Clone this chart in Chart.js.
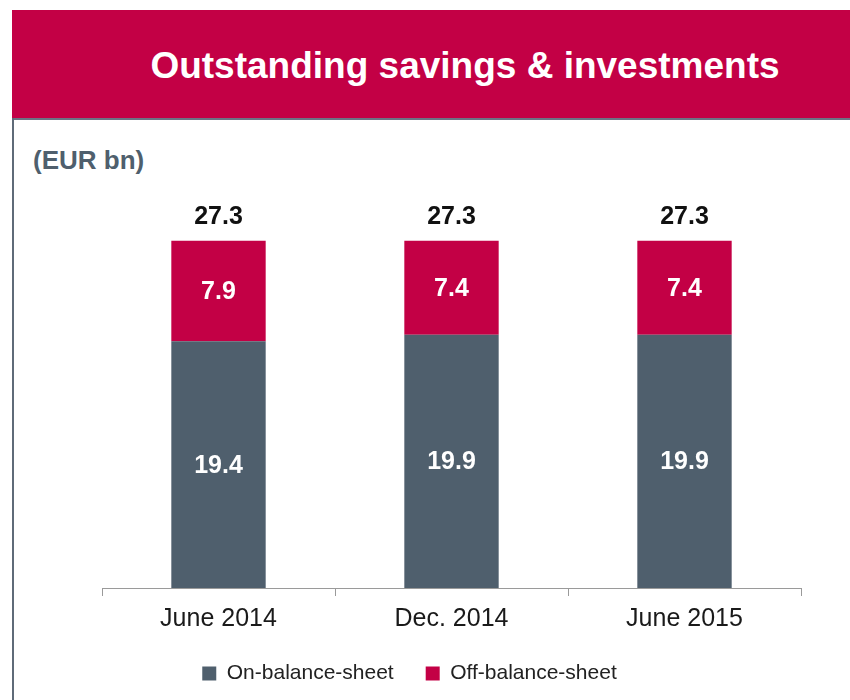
<!DOCTYPE html>
<html>
<head>
<meta charset="utf-8">
<script src="https://cdn.jsdelivr.net/npm/chart.js@4"></script>
<style>
  html, body { margin:0; padding:0; background:#fff; }
  #wrap { position:relative; width:850px; height:700px; overflow:hidden; font-family:"Liberation Sans", Arial, sans-serif; }
  #header { position:absolute; left:12px; top:10px; width:838px; height:108px; background:#C30045; }
  #hline { position:absolute; left:12px; top:118px; width:838px; height:2px; background:#6B7484; }
  #vline { position:absolute; left:12px; top:118px; width:2px; height:582px; background:#5F6B78; }
  #title { position:absolute; left:80px; width:770px; top:12px; height:108px; line-height:108px; text-align:center; color:#fff; font-weight:bold; font-size:37px; }
  #unit { position:absolute; left:33px; top:145px; color:#4F5F6D; font-weight:bold; font-size:26px; }
  canvas { position:absolute; left:0; top:0; }
</style>
</head>
<body>
<div id="wrap">
  <div id="header"></div>
  <div id="hline"></div>
  <div id="vline"></div>
  <div id="title">Outstanding savings &amp; investments</div>
  <div id="unit">(EUR bn)</div>
  <canvas id="c" width="850" height="700"></canvas>
</div>
<script>
const categories = ["June 2014", "Dec. 2014", "June 2015"];
const onBalance = [19.4, 19.9, 19.9];
const offBalance = [7.9, 7.4, 7.4];
const totals = [27.3, 27.3, 27.3];
const seriesNames = ["On-balance-sheet", "Off-balance-sheet"];

const FONT = '"Liberation Sans", Arial, sans-serif';

const labelPlugin = {
  id: 'labels',
  afterDatasetsDraw(chart) {
    const ctx = chart.ctx;
    ctx.save();
    ctx.textAlign = 'center';
    ctx.textBaseline = 'middle';
    ctx.font = 'bold 25px ' + FONT;
    chart.data.datasets.forEach((ds, di) => {
      const meta = chart.getDatasetMeta(di);
      meta.data.forEach((bar, i) => {
        const top = Math.min(bar.y, bar.base), bot = Math.max(bar.y, bar.base);
        ctx.fillStyle = '#ffffff';
        ctx.fillText(ds.data[i].toFixed(1), bar.x, (top + bot) / 2 + 1);
      });
    });
    const yScale = chart.scales.y;
    const meta0 = chart.getDatasetMeta(0);
    ctx.fillStyle = '#111111';
    totals.forEach((t, i) => {
      ctx.fillText(t.toFixed(1), meta0.data[i].x, yScale.getPixelForValue(t) - 24);
    });
    ctx.restore();
  }
};

new Chart(document.getElementById('c'), {
  type: 'bar',
  data: {
    labels: categories,
    datasets: [
      { label: seriesNames[0], data: onBalance, backgroundColor: '#4F5F6D', borderWidth: 0 },
      { label: seriesNames[1], data: offBalance, backgroundColor: '#C30045', borderWidth: 0 }
    ]
  },
  options: {
    responsive: false,
    animation: false,
    devicePixelRatio: 1,
    layout: { padding: { left: 18, right: 49, top: 206.4, bottom: 6 } },
    datasets: { bar: { categoryPercentage: 1, barPercentage: 0.405 } },
    scales: {
      x: {
        stacked: true,
        offset: true,
        grid: { display: true, drawOnChartArea: false, offset: true, tickLength: 8, color: '#9A9A9A', lineWidth: 1 },
        border: { display: true, color: '#9A9A9A', width: 1 },
        ticks: { color: '#1A1A1A', font: { family: FONT, size: 25 }, padding: 8 },
        afterFit: (s) => { s.height = 43; }
      },
      y: {
        stacked: true,
        min: 0, max: 30,
        display: true,
        grid: { display: false },
        border: { display: false },
        ticks: { display: false },
        afterFit: (s) => { s.width = 84; }
      }
    },
    plugins: {
      legend: {
        display: true,
        position: 'bottom',
        labels: { boxWidth: 14, boxHeight: 14, padding: 32, color: '#222222', font: { family: FONT, size: 21 } }
      },
      tooltip: { enabled: false },
      title: { display: false }
    }
  },
  plugins: [labelPlugin]
});
</script>
</body>
</html>
